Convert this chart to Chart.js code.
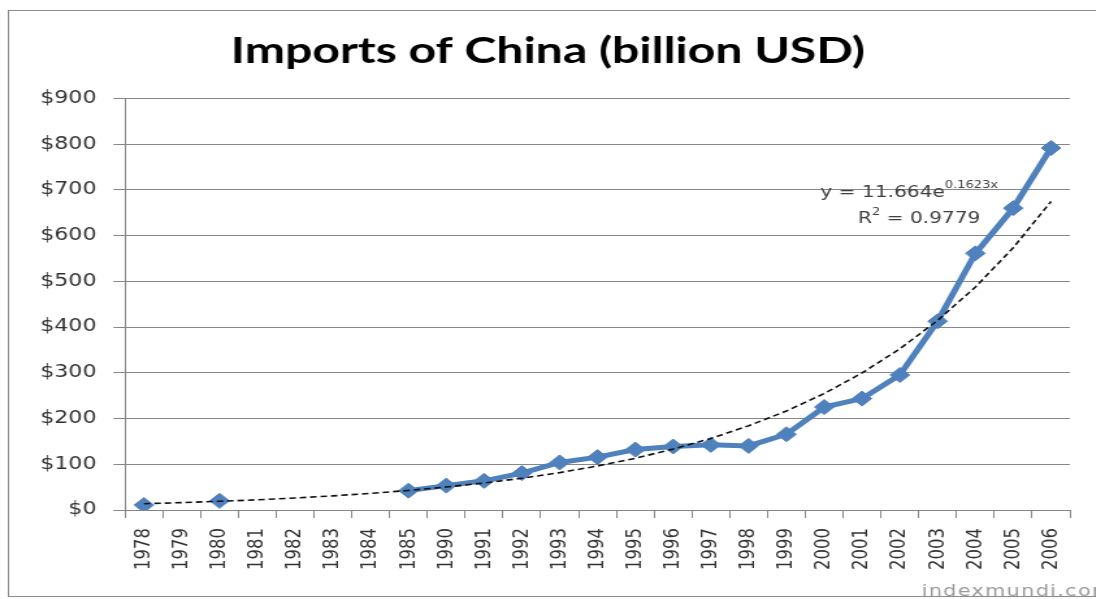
<!DOCTYPE html>
<html>
<head>
<meta charset="utf-8">
<title>Imports of China</title>
<script src="https://cdn.jsdelivr.net/npm/chart.js@4.4.1/dist/chart.umd.min.js"></script>
<style>
  html, body { margin: 0; padding: 0; background: #fff; overflow: hidden; }
  /* the chart is drawn narrow and widened, so the text comes out broad */
  #wrap { position: relative; width: 843px; height: 599px;
          transform: scaleX(1.3); transform-origin: 0 0; }
</style>
</head>
<body>
<div id="wrap"><canvas id="mainChart" width="843" height="599"></canvas></div>
<script>
// years on the category axis (1986-1989 are not listed)
const years = ['1978', '1979', '1980', '1981', '1982', '1983', '1984', '1985',
    '1990', '1991', '1992', '1993', '1994', '1995', '1996', '1997', '1998',
    '1999', '2000', '2001', '2002', '2003', '2004', '2005', '2006'];

// imports, billion USD (null where no figure is given)
const imports = [10.9, null, 20.0, null, null, null, null, 42.3,
    53.3, 63.8, 80.6, 104.0, 115.6, 132.1, 138.8, 142.4, 140.2,
    165.7, 225.1, 243.6, 295.2, 412.8, 561.2, 660.0, 791.5];

const yTicks = [0, 100, 200, 300, 400, 500, 600, 700, 800, 900];

// exponential trendline y = a * e^(b*x), x = 1..n over the categories
const trendA = 11.664;
const trendB = 0.1623;
const trendR2 = '0.9779';
const trend = years.map((y, i) => trendA * Math.exp(trendB * (i + 1)));

const BLUE = '#4F81BD';
const GRID = '#878787';
const TEXT = '#333333';

const decorations = {
    id: 'decorations',
    beforeDraw(chart) {
        const ctx = chart.ctx;
        ctx.save();
        ctx.fillStyle = '#fff';
        ctx.fillRect(0, 0, chart.width, chart.height);
        ctx.strokeStyle = '#8c8c8c';
        ctx.lineWidth = 1;
        ctx.strokeRect(6.5, 10.5, 900, 586);
        ctx.restore();
    },
    afterDatasetsDraw(chart) {
        const ctx = chart.ctx;
        const area = chart.chartArea;
        ctx.save();
        ctx.fillStyle = '#404040';
        ctx.textBaseline = 'alphabetic';
        // trendline equation
        let x = area.right - 192;
        const y1 = area.top + 99;
        ctx.font = '15.5px "DejaVu Sans"';
        const eq = 'y = ' + trendA + 'e';
        ctx.fillText(eq, x, y1);
        x += ctx.measureText(eq).width;
        ctx.font = '10px "DejaVu Sans"';
        ctx.fillText(trendB + 'x', x, y1 - 9);
        // R squared
        const y2 = area.top + 125;
        let x2 = area.right - 163;
        ctx.font = '15.5px "DejaVu Sans"';
        ctx.fillText('R', x2, y2);
        x2 += ctx.measureText('R').width;
        ctx.font = '10px "DejaVu Sans"';
        ctx.fillText('2', x2, y2 - 8);
        x2 += ctx.measureText('2').width;
        ctx.font = '15.5px "DejaVu Sans"';
        ctx.fillText(' = ' + trendR2, x2, y2);
        // source mark
        ctx.fillStyle = '#9a9a9a';
        ctx.font = '16px "DejaVu Sans"';
        ctx.letterSpacing = '1px';
        ctx.fillText('indexmundi.com', 709, 596);
        ctx.restore();
    }
};

const ctx = document.getElementById('mainChart').getContext('2d');

new Chart(ctx, {
    type: 'line',
    data: {
        labels: years,
        datasets: [
            {
                label: 'Trend',
                data: trend,
                order: 0,
                borderColor: '#111',
                borderWidth: 1.6,
                borderDash: [5, 3],
                pointRadius: 0,
                tension: 0,
                fill: false
            },
            {
                label: 'Imports',
                data: imports,
                order: 1,
                borderColor: BLUE,
                backgroundColor: BLUE,
                borderWidth: 5,
                pointStyle: 'rectRot',
                pointRadius: 7.5,
                pointBorderWidth: 1,
                pointBackgroundColor: BLUE,
                pointBorderColor: BLUE,
                spanGaps: false,
                tension: 0,
                fill: false
            }
        ]
    },
    options: {
        responsive: false,
        animation: false,
        devicePixelRatio: 1,
        layout: { padding: { left: 20, right: 20, top: 0, bottom: 0 } },
        plugins: {
            legend: { display: false },
            tooltip: { enabled: false },
            title: {
                display: true,
                text: 'Imports of China (billion USD)',
                color: '#000',
                font: { family: 'Lato', size: 37, weight: 'bold', lineHeight: 1.2 },
                padding: { top: 29, bottom: 25 }
            }
        },
        scales: {
            x: {
                type: 'category',
                offset: true,
                grid: {
                    offset: true,
                    drawOnChartArea: false,
                    drawTicks: true,
                    tickLength: 8,
                    color: GRID
                },
                border: { color: GRID },
                ticks: {
                    autoSkip: false,
                    minRotation: 90,
                    maxRotation: 90,
                    padding: 10,
                    color: TEXT,
                    font: { family: 'DejaVu Sans', size: 16.5 }
                },
                afterFit(scale) { scale.height = 89; }
            },
            y: {
                min: 0,
                max: 900,
                afterBuildTicks(scale) {
                    scale.ticks = yTicks.map(v => ({ value: v }));
                },
                grid: {
                    color: GRID,
                    tickLength: 9,
                    lineWidth: 1
                },
                border: { color: GRID },
                ticks: {
                    padding: 13,
                    color: TEXT,
                    font: { family: 'DejaVu Sans', size: 17 },
                    callback: v => '$' + v
                },
                afterFit(scale) { scale.width = 76.2; }
            }
        }
    },
    plugins: [decorations]
});
</script>
</body>
</html>
